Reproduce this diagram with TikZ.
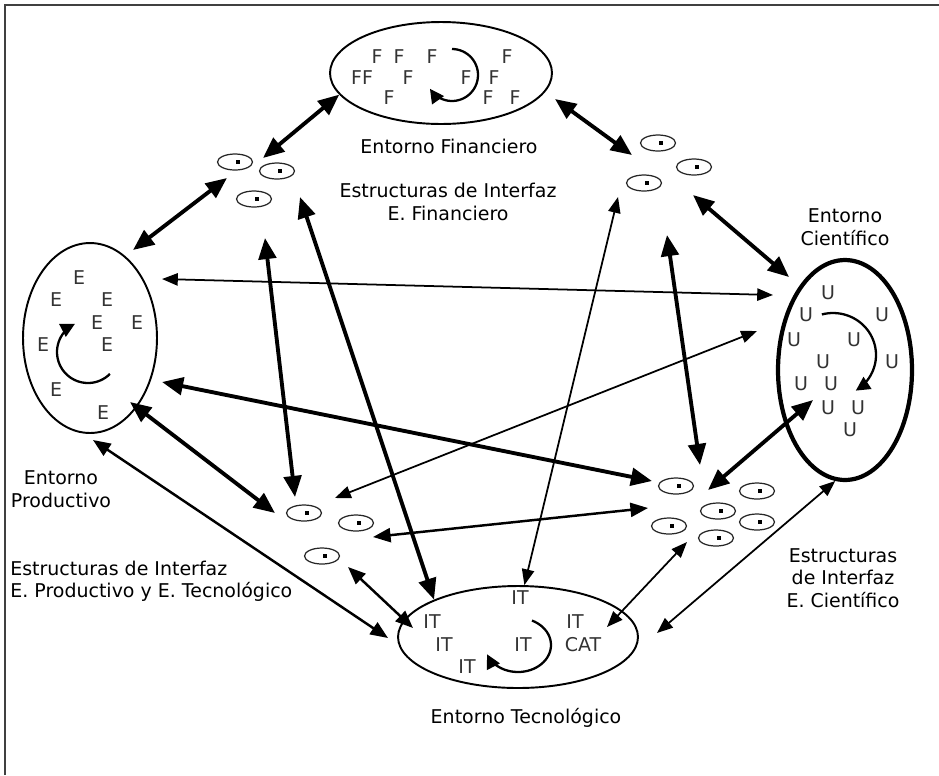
\documentclass[tikz,border=0pt]{standalone}
\usepackage{fontspec}
\setmainfont{DejaVu Sans}
\usetikzlibrary{shapes.geometric,arrows.meta}

\newcommand{\txtsize}{\fontsize{10.8}{12.8}\selectfont}

\tikzset{
	entorno/.style={ellipse, draw, line width=1.1pt, inner sep=0pt},
	iface/.style={ellipse, draw=black!85, line width=0.7pt, minimum width=0.7cm, minimum height=0.32cm, inner sep=0pt,
		path picture={\fill ([xshift=0.5pt,yshift=-1.4pt]path picture bounding box.center) rectangle ++(2.3pt,2.8pt);}},
	letra/.style={text=black!80, inner sep=0pt, font=\txtsize},
	rotulo/.style={align=center, inner sep=0pt, font=\txtsize},
	gruesa/.style={{Triangle[length=12pt,width=10pt]}-{Triangle[length=12pt,width=10pt]}, line width=2.2pt},
	media/.style={{Triangle[length=10pt,width=8pt]}-{Triangle[length=10pt,width=8pt]}, line width=1.4pt},
	fina/.style={{Triangle[length=9pt,width=7pt]}-{Triangle[length=9pt,width=7pt]}, line width=1pt},
	giro/.style={-{Triangle[length=8pt,width=8pt]}, line width=1.3pt}
}

\begin{document}
\begin{tikzpicture}[x=0.02cm,y=-0.02cm]

	%\draw[step=50,black!20,thin] (0,0) grid (939,775);
	\useasboundingbox (0,0) rectangle (939,775);
	\draw[black!75, line width=0.6pt] (5,775) -- (5,5) -- (939,5);

	% entornos
	\node[entorno, minimum width=4.44cm, minimum height=2.04cm] (fin) at (441,73) {};
	\node[entorno, minimum width=2.68cm, minimum height=3.8cm] (prod) at (90,338) {};
	\node[entorno, line width=2.4pt, minimum width=2.68cm, minimum height=4.4cm] (cien) at (845,370) {};
	\node[entorno, minimum width=4.8cm, minimum height=2.04cm] (tec) at (518,637) {};

	\foreach \x/\y/\t [count=\i] in {377/57/F, 399/57/F, 432/57/F, 507/57/F, 362/78/FF, 408/78/F, 466/78/F, 494/78/F, 389/98/F, 488/98/F, 515/98/F}
		\node[letra] (f\i) at (\x,\y) {\t};
	\foreach \x/\y [count=\i] in {79/278, 56/300, 107/300, 97/323, 137/323, 43/345, 107/345, 56/390, 103/413}
		\node[letra] (e\i) at (\x,\y) {E};
	\foreach \x/\y [count=\i] in {828/293, 806/315, 882/315, 794/340, 854/340, 823/362, 892/362, 801/384, 831/384, 828/408, 858/408, 850/430}
		\node[letra] (u\i) at (\x,\y) {U};
	\foreach \x/\y/\t [count=\i] in {520/598/IT, 432/622/IT, 575/622/IT, 444/645/IT, 523/645/IT, 583/645/CAT, 467/667/IT}
		\node[letra] (it\i) at (\x,\y) {\t};

	\draw[giro] plot[domain=-90:148, samples=40] ({452+26*cos(\x)},{75+26*sin(\x)});
	\draw[giro] plot[domain=45:245, samples=40] ({88+31*cos(\x)},{352+31*sin(\x)});
	\draw[giro] plot[domain=-105:58, samples=40] ({833+43*cos(\x)},{355+42*sin(\x)});
	\draw[giro] plot[domain=-65:160, samples=40] ({518+33*cos(\x)},{645+27*sin(\x)});

	% estructuras de interfaz
	\node[iface] (fa1) at (235,162) {};
	\node[iface] (fa2) at (277,171) {};
	\node[iface] (fa3) at (254,199) {};
	\node[iface] (fb1) at (658,143) {};
	\node[iface] (fb2) at (694,167) {};
	\node[iface] (fb3) at (644,183) {};
	\node[iface] (pa1) at (304,513) {};
	\node[iface] (pa2) at (356,523) {};
	\node[iface] (pa3) at (322,556) {};
	\node[iface] (ca1) at (676,486) {};
	\node[iface] (ca2) at (757,491) {};
	\node[iface] (ca3) at (718,511) {};
	\node[iface] (ca4) at (669,526) {};
	\node[iface] (ca5) at (757,522) {};
	\node[iface] (ca6) at (716,538) {};

	% rotulos
	\node[rotulo] (finlbl) at (449,146) {Entorno Financiero};
	\node[rotulo] (fingrp) at (448,202) {Estructuras de Interfaz\\E. Financiero};
	\node[rotulo] (cienlbl) at (845,227) {Entorno\\Científico};
	\node[rotulo] (prodlbl) at (61,489) {Entorno\\Productivo};
	\node[rotulo, align=left, anchor=west] (prodgrp) at (10,581) {Estructuras de Interfaz\\E. Productivo y E. Tecnológico};
	\node[rotulo] (ciengrp) at (843,578) {Estructuras\\de Interfaz\\E. Científico};
	\node[rotulo] (teclbl) at (526,718) {Entorno Tecnológico};

	% puntas
	\coordinate (t1) at (263,158);
	\coordinate (t2a) at (227,178);   \coordinate (t2b) at (133,250);
	\coordinate (t3a) at (555,99);    \coordinate (t3b) at (632,155);
	\coordinate (t4a) at (693,195);   \coordinate (t4b) at (789,277);
	\coordinate (t5a) at (162,279);   \coordinate (t5b) at (773,295);
	\coordinate (t6a) at (335,498);   \coordinate (t6b) at (757,331);
	\coordinate (t7a) at (162,382);   \coordinate (t7b) at (652,481);
	\coordinate (t8a) at (130,402);   \coordinate (t8b) at (275,513);
	\coordinate (t9a) at (265,238);   \coordinate (t9b) at (295,497);
	\coordinate (t10) at (618,197);
	\coordinate (t11a) at (667,235);  \coordinate (t11b) at (700,465);
	\coordinate (t12a) at (813,400);  \coordinate (t12b) at (708,490);
	\coordinate (t13a) at (648,508);  \coordinate (t13b) at (373,537);
	\coordinate (t14a) at (687,542);  \coordinate (t14b) at (607,627);
	\coordinate (t15) at (657,633);
	\coordinate (t16a) at (93,440);   \coordinate (t16b) at (388,638);
	\coordinate (t17a) at (348,567);  \coordinate (t17b) at (413,628);
	\coordinate (t18) at (300,197);

	\draw[gruesa] (fin.192) -- (t1);
	\draw[gruesa] (t2a) -- (t2b);
	\draw[gruesa] (t3a) -- (t3b);
	\draw[gruesa] (t4a) -- (t4b);
	\draw[fina] (t5a) -- (t5b);
	\draw[fina] (t6a) -- (t6b);
	\draw[gruesa] (t7a) -- (t7b);
	\draw[gruesa] (t8a) -- (t8b);
	\draw[gruesa] (t9a) -- (t9b);
	\draw[fina] (t10) -- (tec.83);
	\draw[gruesa] (t11a) -- (t11b);
	\draw[gruesa] (t12a) -- (t12b);
	\draw[media] (t13a) -- (t13b);
	\draw[fina] (t14a) -- (t14b);
	\draw[fina] (cien.265) -- (t15);
	\draw[media] (t16a) -- (t16b);
	\draw[media] (t17a) -- (t17b);
	\draw[gruesa] (t18) -- (tec.156);

\end{tikzpicture}
\end{document}
